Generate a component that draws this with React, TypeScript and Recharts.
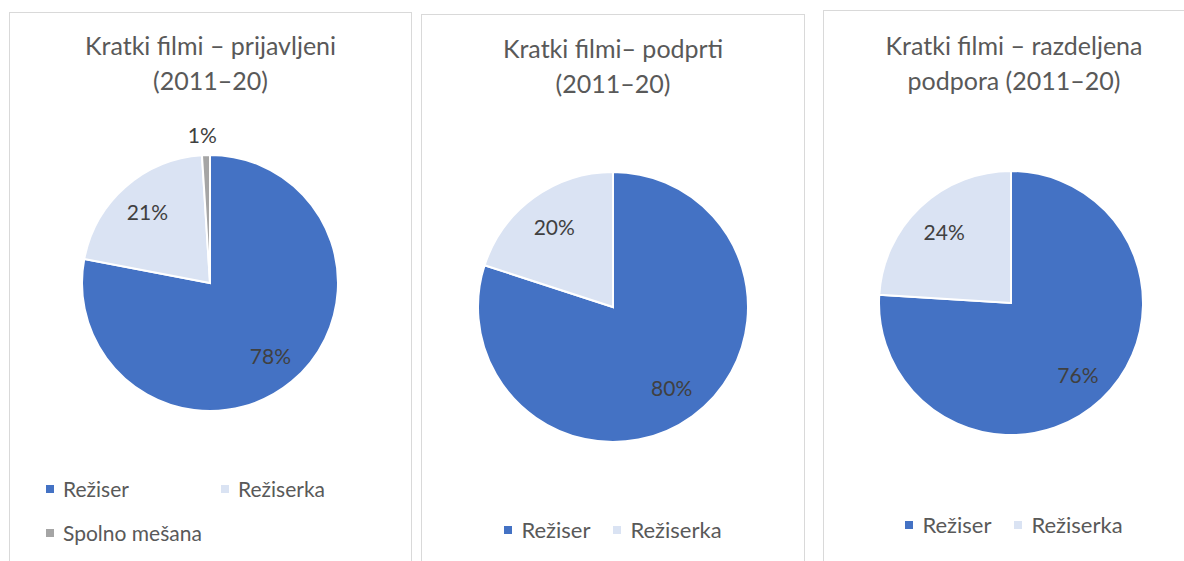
import React from "react";
import { PieChart, Pie, Cell, Legend } from "recharts";

// categories + values
const categories = ["Režiser", "Režiserka", "Spolno mešana"];
const colors = ["#4472C4", "#DAE3F3", "#A5A5A5"];

const prijavljeni = [78, 21, 1];
const podprti = [80, 20];
const razdeljena = [76, 24];

const titles = [
  ["Kratki filmi – prijavljeni", "(2011–20)"],
  ["Kratki filmi– podprti", "(2011–20)"],
  ["Kratki filmi – razdeljena", "podpora (2011–20)"],
];

const FONT = "Lato, 'Open Sans', sans-serif";
const RAD = Math.PI / 180;

type PanelProps = {
  values: number[];
  title: string[];
  left: number;
  top: number;
  width: number;
  cx: number;
  cy: number;
  r: number;
  titleY: number;
  legendTop: number;
  legendGrid?: boolean;
  legendLeft?: number;
};

const renderLabel = (r: number) => (p: any) => {
  const { cx, cy, midAngle, percent } = p;
  const inside = percent >= 0.05;
  const dist = inside ? r * 0.74 : r + 21;
  const x = cx + dist * Math.cos(-midAngle * RAD) - (inside ? 0 : 3);
  const y = cy + dist * Math.sin(-midAngle * RAD);
  return (
    <text
      x={x}
      y={y}
      fill="#404040"
      fontSize={21}
      fontFamily={FONT}
      textAnchor="middle"
      dominantBaseline="central"
    >
      {Math.round(percent * 100)}%
    </text>
  );
};

const Panel: React.FC<PanelProps> = ({
  values, title, left, top, width, cx, cy, r, titleY, legendTop, legendGrid, legendLeft,
}) => {
  const data = values.map((v, i) => ({ name: categories[i], value: v }));
  const h = 600;
  return (
    <div
      style={{
        position: "absolute",
        left,
        top,
        width,
        height: h,
        border: "1px solid #D9D9D9",
        background: "#fff",
      }}
    >
      <div
        style={{
          position: "absolute",
          top: titleY,
          left: 0,
          width: "100%",
          textAlign: "center",
          fontFamily: FONT,
          fontSize: 25,
          lineHeight: "35px",
          color: "#595959",
        }}
      >
        {title.map((t) => (
          <div key={t}>{t}</div>
        ))}
      </div>
      <PieChart
        width={width}
        height={h}
        margin={{ top: 0, right: 0, bottom: 0, left: 0 }}
        style={{ position: "absolute", left: 0, top: 0 }}
      >
        <Pie
          data={data}
          dataKey="value"
          cx={cx}
          cy={cy}
          outerRadius={r}
          startAngle={90}
          endAngle={-270}
          stroke="#fff"
          strokeWidth={2}
          label={renderLabel(r)}
          labelLine={false}
          isAnimationActive={false}
        >
          {data.map((d, i) => (
            <Cell key={d.name} fill={colors[i]} />
          ))}
        </Pie>
        <Legend
          wrapperStyle={{ top: legendTop, left: 0, width }}
          content={() => (
            <div
              style={
                legendGrid
                  ? {
                      display: "grid",
                      gridTemplateColumns: "175px auto",
                      rowGap: 17,
                      paddingLeft: legendLeft,
                    }
                  : { display: "flex", justifyContent: "center", gap: 23 }
              }
            >
              {data.map((d, i) => (
                <div
                  key={d.name}
                  style={{
                    display: "flex",
                    alignItems: "center",
                    fontFamily: FONT,
                    fontSize: legendGrid ? 21 : 22,
                    color: "#595959",
                    lineHeight: "27px",
                  }}
                >
                  <span
                    style={{
                      width: 8,
                      height: 8,
                      background: colors[i],
                      marginRight: 9,
                      display: "inline-block",
                    }}
                  />
                  {d.name}
                </div>
              ))}
            </div>
          )}
        />
      </PieChart>
    </div>
  );
}

export default function App() {
  return (
    <div
      style={{
        position: "absolute",
        left: 0,
        top: 0,
        width: 1184,
        height: 561,
        overflow: "hidden",
        background: "#fff",
      }}
    >
      <Panel values={prijavljeni} title={titles[0]} left={9} top={12} width={401}
        cx={200} cy={270} r={128} titleY={15} legendTop={462} legendGrid legendLeft={36} />
      <Panel values={podprti} title={titles[1]} left={421} top={14} width={382}
        cx={191} cy={292} r={135} titleY={16} legendTop={501} />
      <Panel values={razdeljena} title={titles[2]} left={823} top={10} width={380}
        cx={187} cy={292} r={132} titleY={17} legendTop={500} />
    </div>
  );
}
